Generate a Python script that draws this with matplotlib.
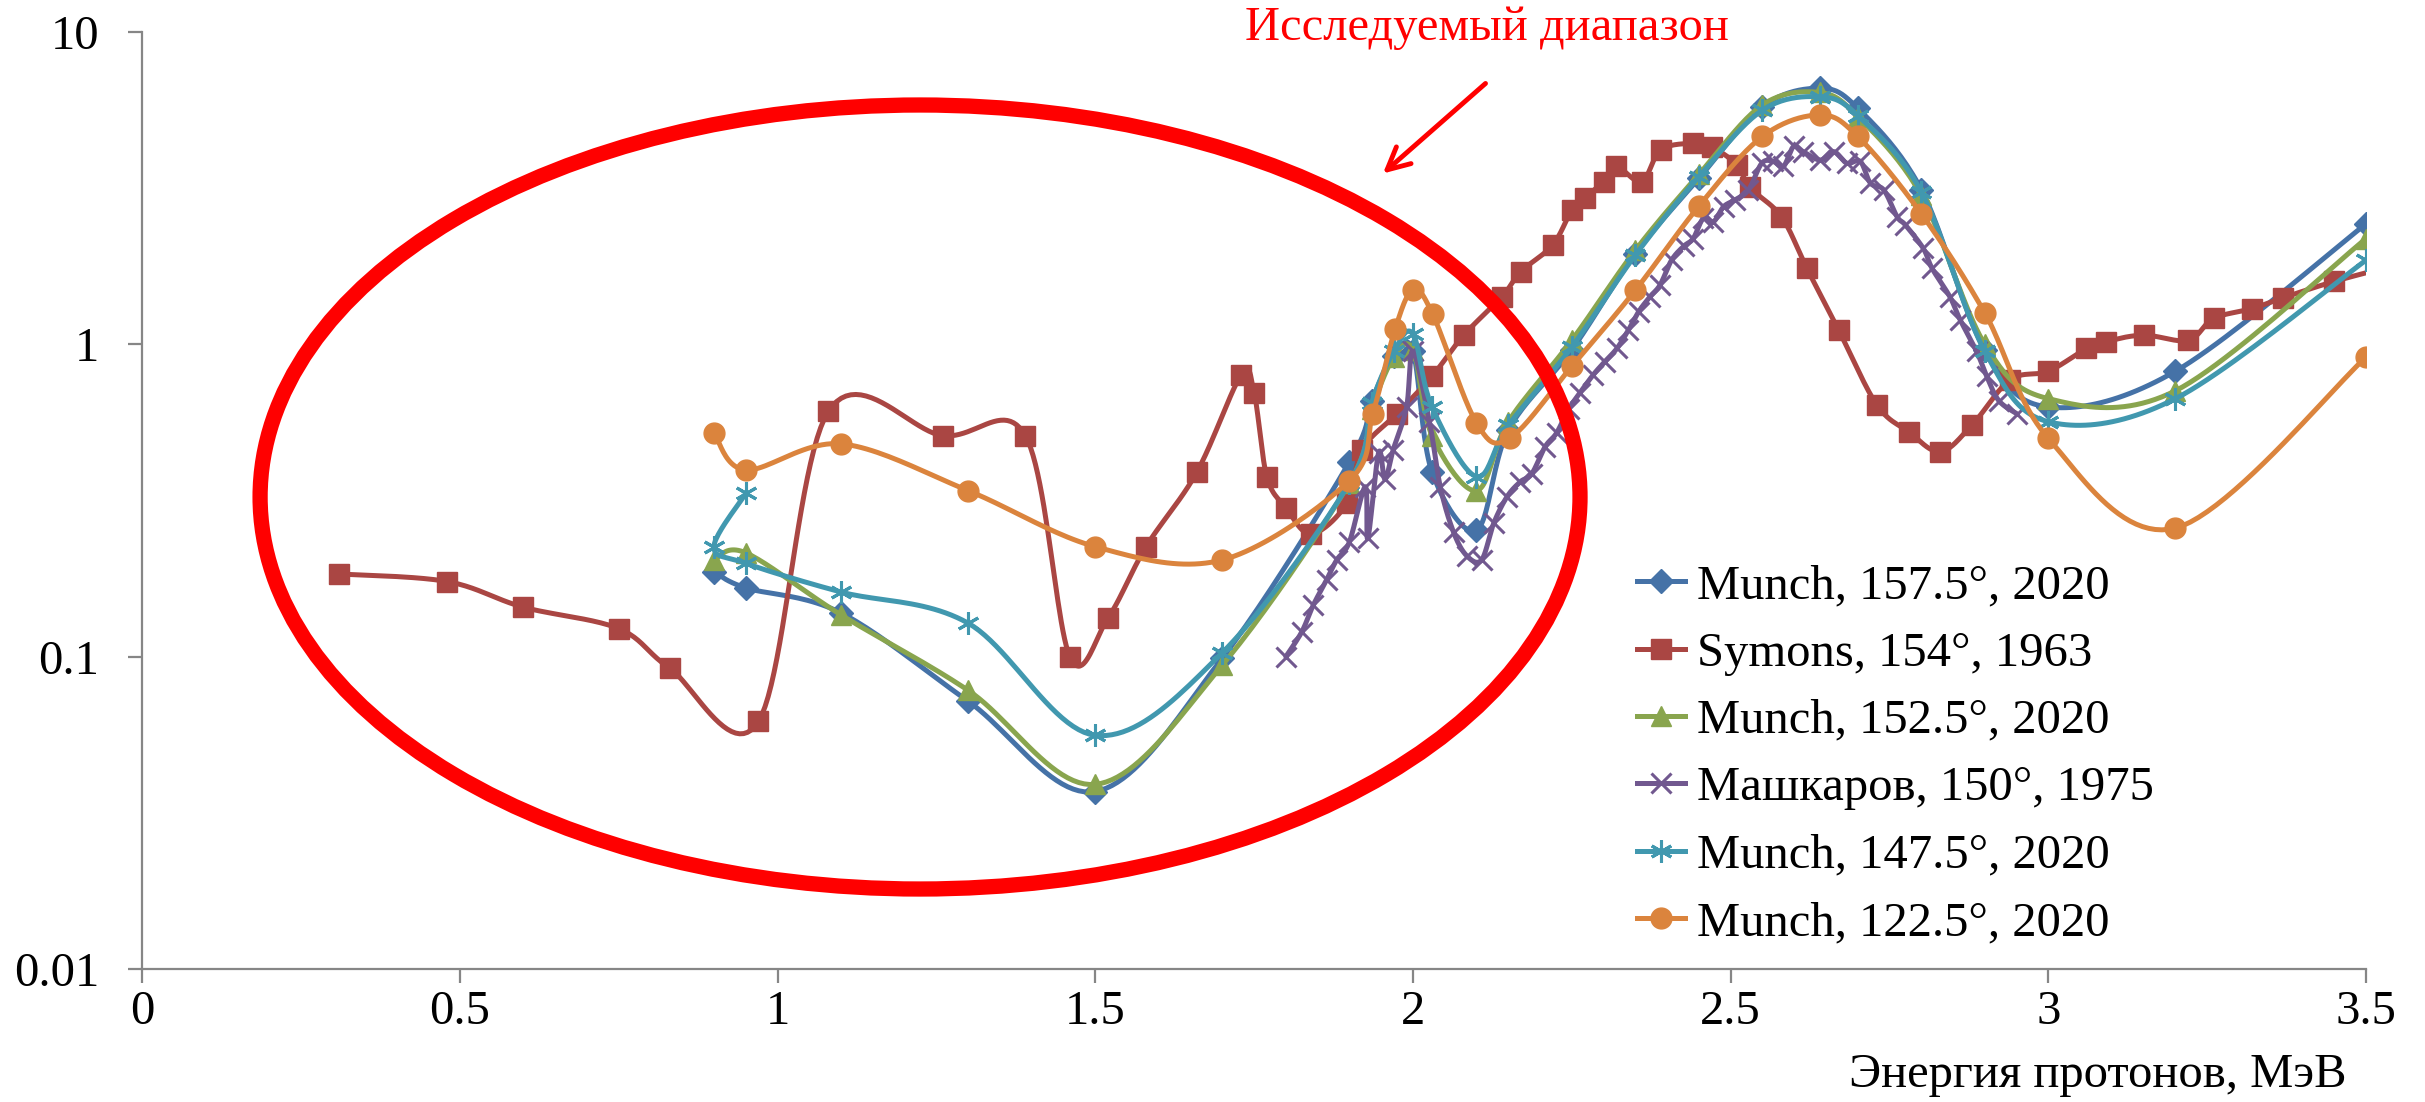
# plot.py
# Сечения (log) vs энергия протонов, с выделенным исследуемым диапазоном

import numpy as np
import matplotlib.pyplot as plt
from matplotlib.patches import Ellipse

plt.rcParams['font.family'] = ['Liberation Serif', 'DejaVu Serif']

#%% Данные
# Munch, 157.5°, 2020
e_m157 = [0.9, 0.95, 1.1, 1.3, 1.5, 1.7, 1.9, 1.935, 1.97, 2.0, 2.03, 2.1, 2.15,
          2.25, 2.35, 2.45, 2.55, 2.64, 2.7, 2.8, 2.9, 3.0, 3.2, 3.5]
s_m157 = [0.187, 0.166, 0.138, 0.072, 0.037, 0.099, 0.42, 0.66, 0.92, 0.95, 0.39, 0.254, 0.53,
          0.96, 1.95, 3.40, 5.77, 6.6, 5.7, 3.13, 0.96, 0.63, 0.82, 2.43]

# Symons, 154°, 1963
e_sym = [0.31, 0.48, 0.60, 0.75, 0.83, 0.97, 1.08, 1.26, 1.39, 1.46, 1.52, 1.58, 1.66,
         1.73, 1.75, 1.77, 1.80, 1.84, 1.896, 1.92, 1.975, 2.03, 2.08, 2.14, 2.17, 2.22,
         2.25, 2.27, 2.30, 2.32, 2.36, 2.39, 2.44, 2.47, 2.51, 2.53, 2.58, 2.62, 2.67,
         2.73, 2.78, 2.83, 2.88, 2.94, 3.0, 3.06, 3.09, 3.15, 3.22, 3.26, 3.32, 3.37,
         3.45, 3.55]
s_sym = [0.184, 0.174, 0.144, 0.123, 0.092, 0.062, 0.61, 0.51, 0.51, 0.10, 0.133, 0.225, 0.39,
         0.80, 0.70, 0.377, 0.30, 0.247, 0.31, 0.46, 0.60, 0.79, 1.07, 1.42, 1.71, 2.08,
         2.69, 2.93, 3.32, 3.71, 3.32, 4.19, 4.40, 4.29, 3.75, 3.18, 2.56, 1.75, 1.11,
         0.64, 0.525, 0.453, 0.552, 0.77, 0.82, 0.97, 1.02, 1.07, 1.03, 1.21, 1.30, 1.41,
         1.59, 1.80]

# Munch, 152.5°, 2020
e_m152 = [0.9, 0.95, 1.1, 1.3, 1.5, 1.7, 1.9, 1.935, 1.97, 2.0, 2.03, 2.1, 2.15,
          2.25, 2.35, 2.45, 2.55, 2.64, 2.7, 2.8, 2.9, 3.0, 3.2, 3.5]
s_m152 = [0.204, 0.215, 0.136, 0.078, 0.039, 0.094, 0.36, 0.62, 0.91, 0.96, 0.51, 0.34, 0.565,
          1.03, 2.0, 3.5, 5.84, 6.4, 5.36, 3.0, 1.0, 0.67, 0.71, 2.18]

# Машкаров, 150°, 1975
e_mash = [1.80, 1.825, 1.843, 1.864, 1.88, 1.90, 1.925, 1.929, 1.946, 1.956, 1.969, 1.99,
          2.0, 2.026, 2.043, 2.064, 2.085, 2.108, 2.127, 2.148, 2.169, 2.187, 2.208, 2.226,
          2.245, 2.263, 2.284, 2.302, 2.321, 2.339, 2.355, 2.373, 2.389, 2.407, 2.426, 2.441,
          2.457, 2.473, 2.489, 2.507, 2.528, 2.549, 2.567, 2.583, 2.599, 2.614, 2.641, 2.662,
          2.683, 2.704, 2.72, 2.741, 2.762, 2.775, 2.803, 2.817, 2.845, 2.861, 2.887, 2.903,
          2.922, 2.95]
s_mash = [0.10, 0.12, 0.146, 0.176, 0.204, 0.233, 0.35, 0.239, 0.45, 0.37, 0.46, 0.63,
          0.95, 0.565, 0.35, 0.25, 0.21, 0.204, 0.267, 0.325, 0.363, 0.385, 0.47, 0.52,
          0.62, 0.70, 0.80, 0.88, 0.97, 1.11, 1.27, 1.42, 1.55, 1.86, 2.06, 2.18,
          2.53, 2.47, 2.76, 2.90, 3.12, 3.80, 3.85, 3.71, 4.30, 4.14, 3.89, 4.14,
          3.80, 3.85, 3.28, 3.12, 2.56, 2.41, 2.03, 1.75, 1.42, 1.20, 0.95, 0.79,
          0.66, 0.60]

# Munch, 147.5°, 2020 (первая точка 0.95 идет раньше 0.9 - так на рисунке)
e_m147 = [0.95, 0.9, 0.95, 1.1, 1.3, 1.5, 1.7, 1.9, 1.935, 1.97, 2.0, 2.03, 2.1, 2.15,
          2.25, 2.35, 2.45, 2.55, 2.64, 2.7, 2.8, 2.9, 3.0, 3.2, 3.5]
s_m147 = [0.333, 0.225, 0.199, 0.161, 0.128, 0.056, 0.103, 0.36, 0.65, 0.95, 1.08, 0.63, 0.377, 0.55,
          0.98, 1.93, 3.44, 5.62, 6.2, 5.4, 3.08, 0.95, 0.565, 0.67, 1.86]

# Munch, 122.5°, 2020
e_m122 = [0.9, 0.95, 1.1, 1.3, 1.5, 1.7, 1.9, 1.937, 1.972, 2.0, 2.031, 2.1, 2.152,
          2.25, 2.35, 2.45, 2.55, 2.64, 2.7, 2.8, 2.9, 3.0, 3.2, 3.5]
s_m122 = [0.52, 0.396, 0.48, 0.34, 0.225, 0.204, 0.366, 0.60, 1.12, 1.49, 1.25, 0.56, 0.50,
          0.85, 1.49, 2.77, 4.63, 5.42, 4.63, 2.62, 1.26, 0.50, 0.258, 0.91]

labels = ['Munch, 157.5°, 2020', 'Symons, 154°, 1963', 'Munch, 152.5°, 2020',
          'Машкаров, 150°, 1975', 'Munch, 147.5°, 2020', 'Munch, 122.5°, 2020']
x_ticks = [0, 0.5, 1, 1.5, 2, 2.5, 3, 3.5]
x_ticklabels = ['0', '0.5', '1', '1.5', '2', '2.5', '3', '3.5']
y_ticks = [0.01, 0.1, 1, 10]
y_ticklabels = ['0.01', '0.1', '1', '10']


#%%
def smooth(x, y, n=24):
    ''' Сглаживание как в Excel: сплайн Катмулла-Рома в координатах (x, log y) '''
    px = np.asarray(x, float)
    py = np.log10(np.asarray(y, float))
    px = np.r_[px[0], px, px[-1]]
    py = np.r_[py[0], py, py[-1]]
    t = np.linspace(0, 1, n)[:, None]
    xs, ys = [], []
    for i in range(1, len(px) - 2):
        p0, p1, p2, p3 = [np.array([px[j], py[j]]) for j in (i - 1, i, i + 1, i + 2)]
        c1 = p1 + (p2 - p0) / 6
        c2 = p2 - (p3 - p1) / 6
        b = ((1 - t) ** 3) * p1 + 3 * ((1 - t) ** 2) * t * c1 + 3 * (1 - t) * t ** 2 * c2 + t ** 3 * p2
        xs.append(b[:, 0])
        ys.append(b[:, 1])
    return np.concatenate(xs), 10 ** np.concatenate(ys)


#%%
fig = plt.figure(figsize=(24.25, 11.02), dpi=100)
ax = fig.add_axes([0.0586, 0.1207, 0.9171, 0.8503])

series = [
    (e_m157, s_m157, '#4572A7', dict(marker='D', markersize=12)),
    (e_sym, s_sym, '#AA4643', dict(marker='s', markersize=15)),
    (e_m152, s_m152, '#89A54E', dict(marker='^', markersize=15)),
    (e_mash, s_mash, '#71588F', dict(marker='x', markersize=14, markeredgewidth=2.2)),
    (e_m147, s_m147, '#4198AF', dict(marker=(6, 2, 0), markersize=16, markeredgewidth=2.2)),
    (e_m122, s_m122, '#DB843D', dict(marker='o', markersize=15)),
]

for (xe, ye, col, mk), lab in zip(series, labels):
    xs, ys = smooth(xe, ye)
    ax.plot(xs, ys, color=col, lw=3.6, solid_capstyle='round')
    ax.plot(xe, ye, linestyle='none', color=col, markeredgecolor=col, **mk)
    # линия + маркер только для легенды
    ax.plot([], [], color=col, lw=3.6, markeredgecolor=col, label=lab, **mk)

ax.set_yscale('log')
ax.set_xlim(0, 3.5)
ax.set_ylim(0.01, 10)
ax.set_xticks(x_ticks)
ax.set_xticklabels(x_ticklabels)
ax.set_yticks(y_ticks)
ax.set_yticklabels(y_ticklabels)
ax.minorticks_off()

for s in ['top', 'right']:
    ax.spines[s].set_visible(False)
for s in ['left', 'bottom']:
    ax.spines[s].set_color('#868686')
    ax.spines[s].set_linewidth(1.6)
ax.tick_params(axis='both', colors='#868686', length=10, width=1.6, labelcolor='black',
               labelsize=35)
ax.tick_params(axis='y', pad=21)
ax.tick_params(axis='x', pad=5)

ax.set_xlabel('Энергия протонов, МэВ', fontsize=35, ha='right', x=0.991, labelpad=14)

ax.legend(loc='upper left', bbox_to_anchor=(0.672, 0.432), frameon=False, fontsize=35,
          handlelength=1.0, handletextpad=0.25, labelspacing=0.48, borderpad=0,
          borderaxespad=0)

# Красный овал и подпись с указателем
ax.add_patch(Ellipse((0.3498, 0.5037), 0.5935, 0.8367, transform=ax.transAxes,
                     fill=False, edgecolor='red', lw=11, zorder=5))
ax.annotate('', xy=(0.557, 0.847), xytext=(0.605, 0.947), xycoords='axes fraction',
            arrowprops=dict(arrowstyle='->', color='red', lw=3.5, mutation_scale=40))
fig.text(0.613, 0.975, 'Исследуемый диапазон', color='red', fontsize=35,
         ha='center', va='center')

fig.savefig('out.png', dpi=100)
